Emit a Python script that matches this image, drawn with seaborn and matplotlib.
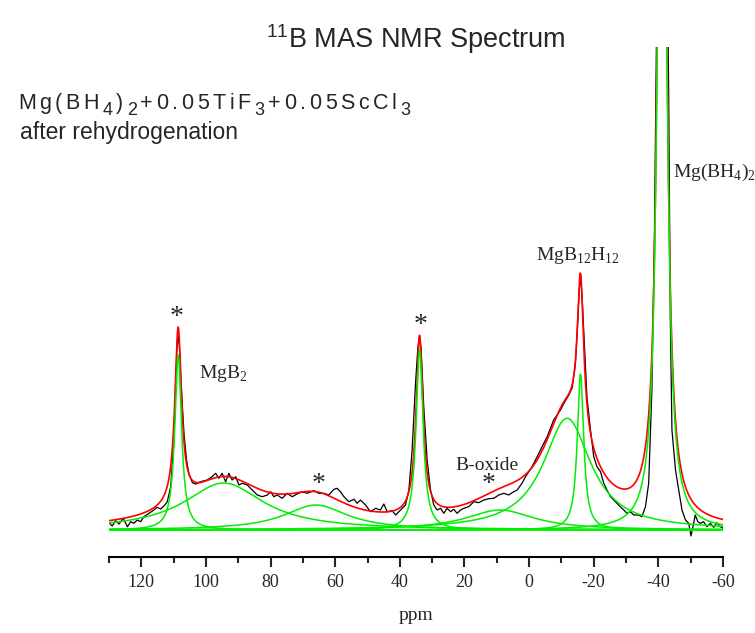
import numpy as np
import pandas as pd
import matplotlib
matplotlib.use("Agg")
import matplotlib.pyplot as plt
from matplotlib.transforms import IdentityTransform
import seaborn as sns

# ---------------- data ----------------
# experimental 11B MAS NMR spectrum (ppm, intensity above baseline)
exp_ppm = [130.0, 129.0, 127.95, 126.9, 125.6, 124.3, 123.3, 122.3, 121.25, 120.2,
           119.2, 117.6, 116.1, 115.1, 114.0, 113.0, 112.0, 110.9, 109.9, 109.4,
           108.9, 108.6, 108.2, 107.7, 106.8, 106.0, 105.3, 104.2, 103.2, 101.7,
           99.6, 98.1, 97.0, 96.0, 95.0, 93.9, 92.9, 91.9, 90.8, 89.8,
           88.8, 87.2, 85.7, 84.1, 82.6, 81.0, 80.0, 79.0, 77.95, 76.4,
           74.9, 73.3, 71.8, 70.2, 68.7, 66.6, 65.1, 63.5, 62.0, 60.4,
           59.4, 58.4, 57.3, 55.8, 54.2, 53.2, 52.2, 50.6, 49.1, 47.5,
           46.0, 44.95, 43.9, 42.4, 41.3, 40.3, 39.3, 38.25, 37.2, 36.2,
           35.15, 34.4, 33.9, 33.4, 32.6, 31.55, 30.5, 29.5, 28.45, 27.4,
           26.4, 25.4, 24.3, 23.3, 22.3, 21.2, 20.2, 18.7, 17.1, 15.6,
           14.0, 12.5, 10.9, 9.4, 7.8, 6.3, 4.75, 3.7, 2.2, 1.1,
           0.1, -0.9, -2.5, -4.0, -5.6, -7.6, -9.7, -11.0, -12.3, -13.3,
           -14.3, -15.0, -15.5, -15.9, -16.4, -16.9, -17.4, -17.9, -19.0, -20.0,
           -21.0, -22.1, -23.1, -24.1, -25.2, -26.2, -27.2, -28.2, -29.3, -30.3,
           -31.3, -32.4, -33.9, -34.9, -36.0, -37.0, -38.0, -38.8, -39.4, -40.0,
           -41.1, -42.3, -43.2, -43.7, -44.2, -45.3, -46.3, -47.3, -48.4, -49.4,
           -50.1, -50.7, -51.4, -52.2, -53.0, -54.0, -55.0, -56.1, -57.1, -58.1,
           -59.2, -60.0]
exp_int = [7.3, 4.0, 9.3, 6.0, 11.7, 3.3, 8.3, 6.7, 10.0, 8.3,
           13.3, 16.7, 20.0, 22.7, 21.0, 24.0, 28.0, 43.3, 90.0, 146.7,
           186.7, 193.3, 183.3, 146.7, 96.7, 70.0, 56.7, 47.3, 46.0, 48.3,
           50.0, 53.3, 56.7, 51.7, 56.7, 48.3, 56.7, 50.0, 53.3, 45.0,
           46.7, 45.0, 40.0, 35.0, 33.3, 35.0, 38.3, 33.3, 35.0, 31.7,
           36.7, 33.3, 36.0, 38.3, 36.7, 39.3, 36.7, 36.7, 35.0, 40.7,
           41.7, 38.3, 33.3, 28.3, 30.7, 26.7, 30.0, 25.0, 18.3, 21.7,
           20.0, 26.0, 18.3, 19.3, 15.0, 18.3, 21.7, 25.0, 40.0, 80.0,
           146.7, 183.3, 193.3, 180.0, 123.3, 70.0, 40.0, 25.0, 20.0, 21.7,
           16.7, 21.7, 18.3, 20.7, 16.7, 20.0, 21.7, 23.3, 28.3, 27.3,
           30.0, 31.3, 31.7, 35.0, 36.7, 35.0, 38.3, 40.0, 46.7, 53.3,
           58.3, 63.3, 73.3, 83.3, 93.3, 110.0, 120.0, 128.0, 135.0, 142.0,
           165.0, 205.0, 240.0, 255.0, 233.0, 200.0, 166.7, 133.0, 100.0, 73.3,
           63.3, 58.3, 46.7, 40.0, 33.3, 30.0, 26.7, 23.3, 20.0, 16.7,
           18.3, 15.0, 15.0, 13.3, 23.3, 46.7, 140.0, 300.0, 483.0, 700.0,
           900.0, 700.0, 433.0, 210.0, 100.0, 60.0, 40.0, 20.0, 10.0, 6.7,
           -6.0, 3.3, 15.0, 8.3, 6.7, 8.3, 3.3, 6.7, 2.7, 7.3,
           3.3, 1.7]

# fitted components (centre ppm, height, half width ppm)
comp_names = ["SSB 1", "MgB2", "SSB 2", "SSB 3", "B-oxide", "MgB12H12 broad",
              "MgB12H12", "Mg(BH4)2"]
comp_center = [108.6, 94.5, 66.0, 33.9, 9.0, -11.75, -15.9, -41.15]
comp_height = [175.0, 47.0, 25.0, 180.0, 20.0, 111.7, 156.0, 1200.0]
comp_hwhm = [1.25, 15.0, 12.0, 1.3, 13.0, 9.0, 1.2, 1.25]

x_ticks = [120, 100, 80, 60, 40, 20, 0, -20, -40, -60]
x_ticklabels = ["120", "100", "80", "60", "40", "20", "0", "-20", "-40", "-60"]

# sample formula, split into (character, subscript?) pieces
formula_chars = [("M", 0), ("g", 0), ("(", 0), ("B", 0), ("H", 0), ("4", 1),
                 (")", 0), ("2", 1), ("+", 0), ("0", 0), (".", 0), ("0", 0),
                 ("5", 0), ("T", 0), ("i", 0), ("F", 0), ("3", 1), ("+", 0),
                 ("0", 0), (".", 0), ("0", 0), ("5", 0), ("S", 0), ("c", 0),
                 ("C", 0), ("l", 0), ("3", 1)]

# ---------------- figure ----------------
sns.set_style("white")
plt.rcParams["mathtext.fontset"] = "custom"
plt.rcParams["mathtext.rm"] = "Liberation Serif"
plt.rcParams["mathtext.sf"] = "Liberation Sans"
plt.rcParams["font.family"] = ["Liberation Serif", "DejaVu Serif"]

W, H = 755, 633
fig = plt.figure(figsize=(W / 100, H / 100), dpi=100)
ax = fig.add_axes([109 / W, (H - 557) / H, (723 - 109) / W, (557 - 47) / H])

grid = np.linspace(130, -60, 4000)
comps = []
for c, h, w in zip(comp_center, comp_height, comp_hwhm):
    comps.append(h / (1.0 + ((grid - c) / w) ** 2))
fit = np.sum(comps, axis=0)

exp_df = pd.DataFrame({"ppm": exp_ppm, "intensity": exp_int})
sns.lineplot(data=exp_df, x="ppm", y="intensity", color="black", lw=0.9,
             sort=False, estimator=None, ax=ax, zorder=2)
sns.lineplot(x=grid, y=fit, color="#ff0000", lw=1.2, sort=False,
             estimator=None, ax=ax, zorder=3)
for comp in comps:
    sns.lineplot(x=grid, y=comp, color="#00ee00", lw=1.1, sort=False,
                 estimator=None, ax=ax, zorder=4)

ax.set_xlim(130, -60)
ax.set_ylim(-27, 483)
for s in ["left", "right", "top"]:
    ax.spines[s].set_visible(False)
ax.spines["bottom"].set_linewidth(1.5)
ax.spines["bottom"].set_color("black")
ax.set_yticks([])
ax.set_ylabel("")
ax.set_xticks(x_ticks)
ax.set_xticklabels(x_ticklabels, fontsize=13)
ax.set_xticks(np.arange(130, -61, -10), minor=True)
ax.tick_params(axis="x", which="major", direction="out", length=7, width=1.5,
               pad=5, bottom=True)
ax.tick_params(axis="x", which="minor", direction="out", length=4.5, width=1.5,
               bottom=True)
ax.set_xlabel("ppm", fontsize=14, labelpad=12)

# annotations
tk = dict(fontsize=14, ha="center", va="center", clip_on=False)
st = dict(fontsize=20, ha="center", va="center", clip_on=False)
ax.text(109.1, 212.5, "*", **st)
ax.text(94.6, 157, r"MgB$_2$", **tk)
ax.text(65.2, 45.5, "*", **st)
ax.text(33.6, 204.5, "*", **st)
ax.text(12.9, 65, "B-oxide", **tk)
ax.text(12.6, 45.5, "*", **st)
ax.text(-15.2, 275, r"MgB$_{12}$H$_{12}$", **tk)
ax.text(-57.3, 358, r"Mg(BH$_4$)$_2$", **tk)

sans = ["Liberation Sans", "DejaVu Sans"]
fig.text(415.5 / W, 1 - 48 / H, r"$^\mathsf{11}$B MAS NMR Spectrum", family=sans,
         fontsize=19.5, ha="center", va="baseline")
fig.text(20 / W, 1 - 139 / H, "after rehydrogenation", family=sans,
         fontsize=16.5, ha="left", va="baseline")

# formula with Origin-like letter spacing, fitted between x=18 and x=410
renderer = fig.canvas.get_renderer()
f_left, f_right, f_base = 18, 410, H - 109
pieces = []
for ch, sub in formula_chars:
    t = fig.text(0, 0, ch, family=sans, fontsize=13 if sub else 15.5,
                 ha="left", va="baseline", transform=IdentityTransform())
    pieces.append((t, sub, t.get_window_extent(renderer).width))
natural = sum(p[2] for p in pieces)
gap = (f_right - f_left - natural) / (len(pieces) - 1)
xpos = f_left
for t, sub, wdt in pieces:
    t.set_position((xpos, f_base - (6 if sub else 0)))
    xpos += wdt + gap

fig.savefig("out.png", dpi=100)
